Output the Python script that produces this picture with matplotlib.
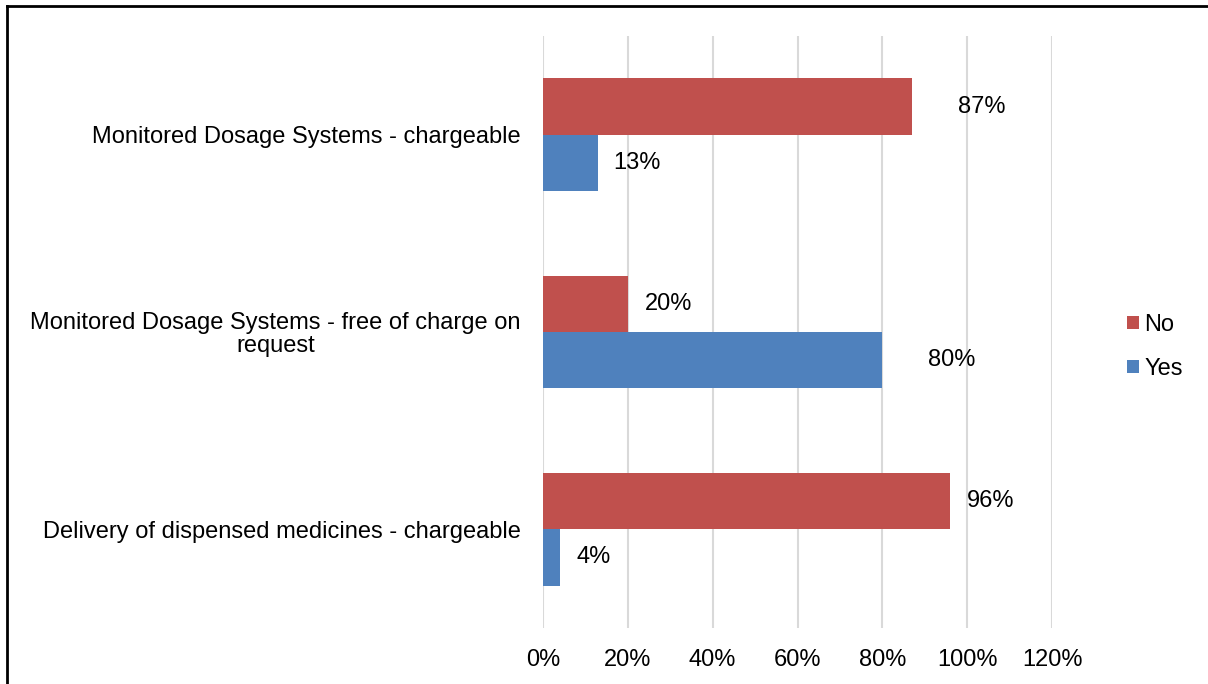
import matplotlib
matplotlib.use("Agg")
import matplotlib.pyplot as plt
import numpy as np

plt.rcParams['font.family'] = ['Liberation Sans', 'DejaVu Sans']

categories = ["Delivery of dispensed medicines - chargeable",
              "Monitored Dosage Systems - free of charge on\nrequest",
              "Monitored Dosage Systems - chargeable"]
no_vals = [96, 20, 87]
yes_vals = [4, 80, 13]
xticks = [0, 20, 40, 60, 80, 100, 120]

# data-label horizontal offsets (points), as placed in the original
no_offsets = [12, 12, 33]
yes_offsets = [12, 33, 11]

FS = 17

fig = plt.figure(figsize=(12.08, 6.84), dpi=100)
ax = fig.add_axes([543/1208, 1 - 628/684, (1052-543)/1208, (628-36)/684])

y = np.arange(len(categories))
h = 0.285
bno = ax.barh(y + h/2, no_vals, height=h, color="#C0504D", label="No", zorder=3)
byes = ax.barh(y - h/2, yes_vals, height=h, color="#4F81BD", label="Yes", zorder=3)

for bars, vals, offs in ((bno, no_vals, no_offsets), (byes, yes_vals, yes_offsets)):
    for b, v, o in zip(bars, vals, offs):
        ax.annotate(f"{v}%", (b.get_width(), b.get_y() + b.get_height()/2),
                    xytext=(o, 0), textcoords="offset points",
                    va="center", ha="left", fontsize=FS, color="#000000")

ax.set_xlim(0, 120)
ax.set_ylim(-0.5, 2.5)
ax.set_xticks(xticks)
ax.set_xticklabels([f"{t}%" for t in xticks], fontsize=FS)
ax.set_yticks(y)
ax.set_yticklabels(categories, fontsize=FS, ha="right", multialignment="center",
                   linespacing=1.05)
ax.tick_params(axis="y", length=0, pad=16)
ax.tick_params(axis="x", length=0, pad=15)
ax.grid(axis="x", color="#D9D9D9", linewidth=1.5, zorder=0)
for s in ax.spines.values():
    s.set_visible(False)

leg = fig.legend([bno, byes], ["No", "Yes"], loc="center left",
                 bbox_to_anchor=(1106/1208, 1 - 347/684), frameon=False,
                 fontsize=FS, handlelength=0.48, handleheight=0.48,
                 handletextpad=0.25, labelspacing=0.95)

# outer frame (top and left visible)
fig.add_artist(plt.Line2D([7/1208, 7/1208], [0, 1 - 6/684], transform=fig.transFigure,
                          color="black", linewidth=2))
fig.add_artist(plt.Line2D([7/1208, 1], [1 - 6/684, 1 - 6/684], transform=fig.transFigure,
                          color="black", linewidth=2))

fig.savefig("out.png", dpi=100)
